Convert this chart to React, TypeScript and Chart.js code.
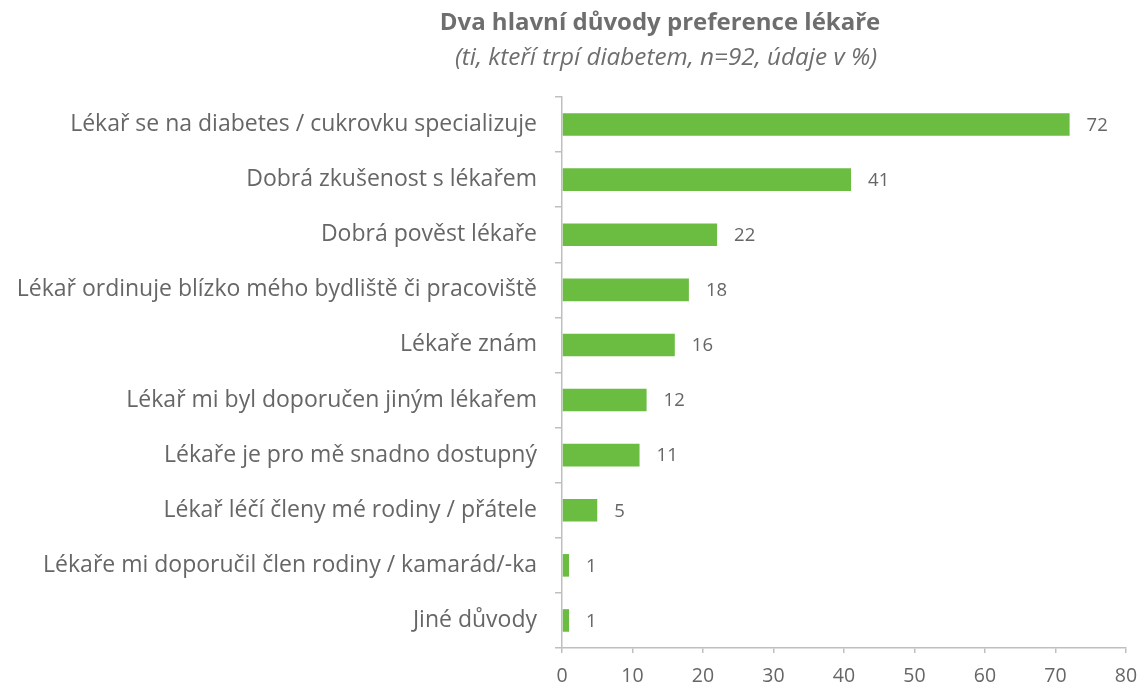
import React, { useEffect, useRef } from "react";
import { Chart, registerables } from "chart.js";

Chart.register(...registerables);

const categories: string[] = [
  "Lékař se na diabetes / cukrovku specializuje",
  "Dobrá zkušenost s lékařem",
  "Dobrá pověst lékaře",
  "Lékař ordinuje blízko mého bydliště či pracoviště",
  "Lékaře znám",
  "Lékař mi byl doporučen jiným lékařem",
  "Lékaře je pro mě snadno dostupný",
  "Lékař léčí členy mé rodiny / přátele",
  "Lékaře mi doporučil člen rodiny / kamarád/-ka",
  "Jiné důvody",
];

const values: number[] = [72, 41, 22, 18, 16, 12, 11, 5, 1, 1];

const xTicks: number[] = [0, 10, 20, 30, 40, 50, 60, 70, 80];

const titleText = "Dva hlavní důvody preference lékaře";
const subtitleText = "(ti, kteří trpí diabetem, n=92, údaje v %)";

const FONT = "'Open Sans', 'Noto Sans', sans-serif";
const BAR_COLOR = "#6BBD42";
const AXIS_COLOR = "#BFBFBF";
const TEXT_COLOR = "#666666";

export default function App() {
  const canvasRef = useRef<HTMLCanvasElement | null>(null);

  useEffect(() => {
    if (!canvasRef.current) return;

    const titlePlugin = {
      id: "customTitle",
      afterDraw(chart: any) {
        const ctx = chart.ctx;
        ctx.save();
        ctx.textAlign = "center";
        ctx.textBaseline = "middle";
        ctx.fillStyle = "#6E6E6E";
        ctx.font = `bold 24px ${FONT}`;
        ctx.fillText(titleText, 660, 23);
        ctx.font = `italic 24.3px ${FONT}`;
        ctx.fillStyle = "#6E6E6E";
        ctx.fillText(subtitleText, 666, 58);
        ctx.restore();
      },
    };

    const labelPlugin = {
      id: "barLabels",
      afterDatasetsDraw(chart: any) {
        const ctx = chart.ctx;
        const meta = chart.getDatasetMeta(0);
        ctx.save();
        ctx.font = `18.5px ${FONT}`;
        ctx.fillStyle = TEXT_COLOR;
        ctx.textAlign = "left";
        ctx.textBaseline = "middle";
        meta.data.forEach((bar: any, i: number) => {
          ctx.fillText(String(values[i]), bar.x + 17, bar.y + 1);
        });
        ctx.restore();
      },
    };

    const chart = new Chart(canvasRef.current, {
      type: "bar",
      data: {
        labels: categories,
        datasets: [
          {
            data: values,
            backgroundColor: BAR_COLOR,
            borderWidth: 0,
            barPercentage: 0.41,
            categoryPercentage: 1,
          },
        ],
      },
      options: {
        indexAxis: "y",
        animation: false,
        responsive: true,
        maintainAspectRatio: false,
        layout: { padding: { top: 97, right: 16, left: 0, bottom: 0 } },
        plugins: {
          legend: { display: false },
          tooltip: { enabled: false },
          title: { display: false },
        },
        scales: {
          x: {
            min: 0,
            max: 80,
            afterBuildTicks(scale: any) {
              scale.ticks = xTicks.map((v) => ({ value: v }));
            },
            afterFit(scale: any) {
              scale.height = 37;
              scale.paddingLeft = 0;
              scale.paddingRight = 0;
            },
            border: { display: true, color: AXIS_COLOR, width: 1.5 },
            grid: {
              display: true,
              drawOnChartArea: false,
              drawTicks: true,
              tickLength: 5,
              color: AXIS_COLOR,
              lineWidth: 1.5,
            },
            ticks: {
              color: TEXT_COLOR,
              font: { family: FONT, size: 19.5 },
              padding: 12,
              maxRotation: 0,
            },
          },
          y: {
            afterFit(scale: any) {
              scale.width = 562;
              scale.paddingTop = 0;
              scale.paddingBottom = 0;
            },
            border: { display: true, color: AXIS_COLOR, width: 1.5 },
            grid: {
              display: true,
              offset: true,
              drawOnChartArea: false,
              drawTicks: true,
              tickLength: 7,
              color: AXIS_COLOR,
              lineWidth: 1.5,
            },
            ticks: {
              color: TEXT_COLOR,
              font: { family: FONT, size: 23 },
              padding: 18,
              autoSkip: false,
            },
          },
        },
      },
      plugins: [titlePlugin, labelPlugin],
    });

    return () => chart.destroy();
  }, []);

  return (
    <div
      style={{
        position: "fixed",
        left: 0,
        top: 0,
        width: 1142,
        height: 685,
        background: "#ffffff",
      }}
    >
      <canvas ref={canvasRef} />
    </div>
  );
}
